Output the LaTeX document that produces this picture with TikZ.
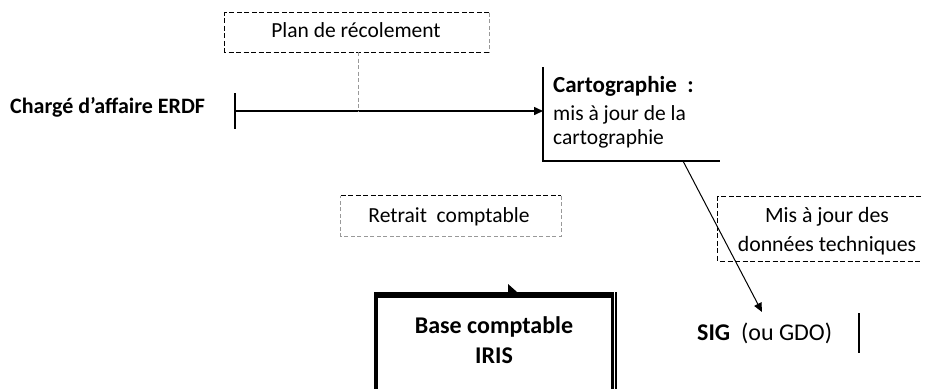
\documentclass[tikz,border=0pt]{standalone}
\usepackage{fontspec}
\setmainfont{Carlito}
\usetikzlibrary{arrows.meta}
\tikzset{
  blackdash/.style={line width=1.3pt, dash pattern=on 5pt off 2.5pt, black},
  graydash/.style={line width=0.8pt, dash pattern=on 4pt off 2.5pt, black!40},
  txt/.style={inner sep=0pt, font=\fontsize{21.5}{26}\selectfont},
  boxarea/.style={draw=none, inner sep=0pt},
  solidline/.style={line width=1.5pt, black},
  arrowtip/.style={-{Triangle[length=9pt,width=8pt]}},
}
\begin{document}
\begin{tikzpicture}[x=1pt,y=-1pt]
\useasboundingbox (0,0) rectangle (925,388);

% Plan de recolement
\node[boxarea, minimum width=264pt, minimum height=39pt] (planbox) at (357,32.5) {};
\node[txt, anchor=base] (plantxt) at (356,37) {Plan de récolement};
\draw[blackdash] (planbox.north east) -- (planbox.north west) -- (planbox.south west) -- (planbox.south east);
\draw[graydash] (planbox.north east) -- (planbox.south east);

% Charge d'affaire
\node[txt, anchor=base west, font=\fontsize{22}{26}\selectfont] (charge) at (10,113) {\textbf{Chargé d’affaire ERDF}};
\coordinate (tickc) at (235,111);
\coordinate (tickt) at (235,93);
\coordinate (tickb) at (235,129);
\draw[solidline] (tickt) -- (tickb);

% Cartographie
\coordinate (cartotop) at (543,67);
\coordinate (cartocorner) at (543,161);
\coordinate (cartoright) at (720,161);
\coordinate (cartoin) at (543,111);
\coordinate (cartoout) at (683,161);
\draw[solidline] (cartotop) -- (cartocorner) -- (cartoright);
\node[txt, anchor=base west, align=left] (carto) at (553,144) {{\fontsize{23}{26}\selectfont\textbf{Cartographie\ \ :}}\\[2pt]mis à jour de la\\[-2pt]cartographie};

\draw[solidline, arrowtip] (tickc) -- (cartoin);
\coordinate (planjoin) at (358,111);
\draw[graydash, line width=0.6pt] (planbox.south) ++(1,0) -- (planjoin);

% Retrait comptable
\node[boxarea, minimum width=220pt, minimum height=40pt] (retbox) at (451,216) {};
\node[txt, anchor=base] (rettxt) at (449,222) {Retrait\ \ comptable};
\draw[blackdash, line width=1pt] (retbox.north west) -- (retbox.north east);
\draw[graydash] (retbox.north east) -- (retbox.south east) -- (retbox.south west) -- (retbox.north west);

% Mis a jour des donnees techniques
\node[boxarea, minimum width=203pt, minimum height=64pt] (majbox) at (819.5,229) {};
\draw[blackdash] (majbox.north east) -- (majbox.north west) -- (majbox.south west) -- (majbox.south east);
\node[txt, anchor=base, align=center, font=\fontsize{21.8}{29}\selectfont] (majtxt) at (827,251) {Mis à jour des\\données techniques};

% SIG
\node[txt, anchor=base west, font=\fontsize{24}{28}\selectfont] (sig) at (697,340) {\textbf{SIG}\ \ (ou GDO)};
\coordinate (sigtip) at (762,312);
\draw[line width=1pt, arrowtip] (cartoout) -- (sigtip);
\coordinate (sigbart) at (859,313);
\coordinate (sigbarb) at (859,353);
\draw[solidline] (sigbart) -- (sigbarb);

% Base comptable IRIS
\coordinate (bl) at (376,395);
\coordinate (btl) at (376,292);
\coordinate (br) at (612,395);
\draw[line width=4pt] (bl) -- (btl);
\draw[line width=6pt] (374,295) -- (613.5,295);
\draw[line width=3pt] (612,292) -- (br);
\draw[line width=1.2pt] (616,292) -- (616,395);
\fill (508,284) -- (517,292) -- (508,292) -- cycle;
\node[txt, anchor=base, align=center, font=\fontsize{24}{30}\selectfont] (base) at (494,363) {\textbf{Base comptable}\\\textbf{IRIS}};
\end{tikzpicture}
\end{document}
